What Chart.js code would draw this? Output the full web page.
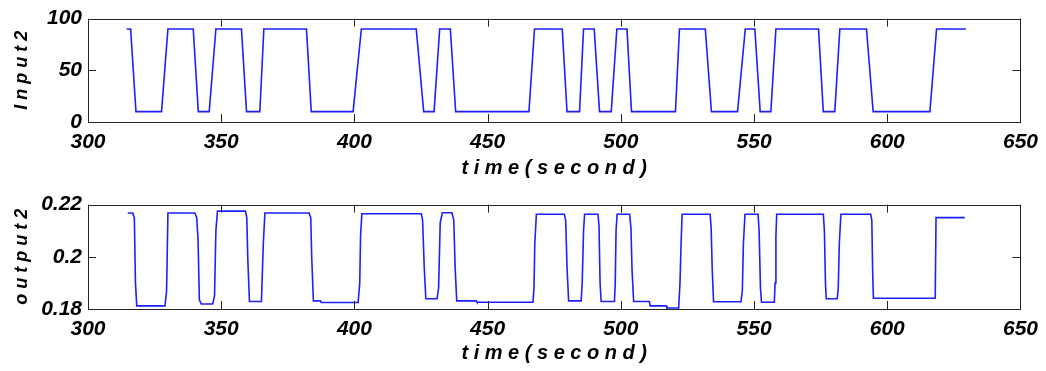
<!DOCTYPE html>
<html>
<head>
<meta charset="utf-8">
<script src="https://cdn.jsdelivr.net/npm/chart.js@4/dist/chart.umd.min.js"></script>
<style>
    html, body { margin: 0; padding: 0; background: #fff; }
    body { width: 1046px; height: 371px; position: relative; overflow: hidden; }
    canvas { position: absolute; left: 0; }
    #inputChart { top: 0; }
    #outputChart { top: 186px; }
</style>
</head>
<body>
<canvas id="inputChart" width="1046" height="186"></canvas>
<canvas id="outputChart" width="1046" height="185"></canvas>
<script>
// x axis ticks (seconds)
const timeTicks = [300, 350, 400, 450, 500, 550, 600, 650];
const inputTicks = [0, 50, 100];
const outputTicks = [0.18, 0.2, 0.22];

// input2
const inputTime = [
    314.5, 316, 318, 327.6, 330, 339.5, 341.4, 345.5, 348, 357.6,
    359.5, 364.5, 366, 382, 383.8, 399.5, 402.6, 423.2, 426, 429.9,
    432, 436, 438, 465.5, 467.6, 478, 479.8, 484.5, 486, 490,
    492, 496.4, 498.5, 502.3, 504, 520.5, 522, 531.7, 534, 543.8,
    546.7, 550.3, 552.3, 556.3, 558.2, 574.2, 576, 580.3, 582.2, 592.2,
    594.7, 616, 618.5, 629.5
];
const inputValue = [
    90, 90, 10, 10, 90, 90, 10, 10, 90, 90,
    10, 10, 90, 90, 10, 10, 90, 90, 10, 10,
    90, 90, 10, 10, 90, 90, 10, 10, 90, 90,
    10, 10, 90, 90, 10, 10, 90, 90, 10, 10,
    90, 90, 10, 10, 90, 90, 10, 10, 90, 90,
    10, 10, 90, 90
];

// output2
const outputTime = [
    314.9, 316.8, 317.4, 317.8, 318.3, 328.9, 329.5, 330.0,
    340.1, 340.8, 341.3, 341.8, 342.5, 346.8, 347.5, 348.0, 348.6,
    359.1, 359.6, 360.0, 360.6, 365.1, 365.8, 366.4,
    383.0, 383.6, 384.0, 384.6, 387.3, 387.5, 401.4, 402.0, 402.3, 402.8,
    425.1, 425.6, 426.2, 426.8, 431.0, 431.6, 432.2, 433.0,
    436.6, 437.3, 437.8, 438.4, 445.7, 446.0, 467.0, 467.4, 467.7, 468.3,
    478.8, 479.3, 479.8, 480.4, 485.1, 485.5, 486.0, 486.4,
    491.4, 491.8, 492.2, 492.6, 497.6, 497.9, 498.2, 498.6,
    503.3, 503.8, 504.2, 504.8, 510.7, 511.0, 517.0, 517.3, 521.7, 522.2, 522.6, 523.0,
    533.5, 533.9, 534.3, 534.8, 545.1, 545.6, 546.0, 546.6,
    551.5, 551.9, 552.4, 552.8, 557.6, 557.9, 558.2, 558.5,
    576.0, 576.4, 576.8, 577.1, 581.2, 581.6, 582.0, 582.6,
    593.8, 594.2, 594.5, 594.8, 618.0, 618.3, 629.1
];
const outputValue = [
    0.2168, 0.2168, 0.2150, 0.1903, 0.1812, 0.1812, 0.1870, 0.2168,
    0.2168, 0.2150, 0.2067, 0.1835, 0.1819, 0.1819, 0.1850, 0.2100, 0.2175,
    0.2175, 0.2150, 0.1985, 0.1829, 0.1829, 0.2050, 0.2168,
    0.2168, 0.2150, 0.1990, 0.1831, 0.1831, 0.1825, 0.1825, 0.1900, 0.2080, 0.2165,
    0.2165, 0.2140, 0.1960, 0.1839, 0.1839, 0.1880, 0.2130, 0.2169,
    0.2169, 0.2140, 0.1960, 0.1831, 0.1831, 0.1826, 0.1826, 0.1880, 0.2050, 0.2163,
    0.2163, 0.2140, 0.1960, 0.1831, 0.1831, 0.1900, 0.2100, 0.2163,
    0.2163, 0.2120, 0.1900, 0.1829, 0.1829, 0.1900, 0.2100, 0.2163,
    0.2163, 0.2110, 0.1950, 0.1829, 0.1829, 0.1812, 0.1812, 0.1804, 0.1804, 0.1900, 0.2050, 0.2163,
    0.2163, 0.2110, 0.1950, 0.1828, 0.1828, 0.1870, 0.2050, 0.2163,
    0.2163, 0.2100, 0.1880, 0.1826, 0.1826, 0.1900, 0.2080, 0.2163,
    0.2163, 0.2100, 0.1900, 0.1839, 0.1839, 0.1880, 0.2050, 0.2163,
    0.2163, 0.2140, 0.1950, 0.1841, 0.1841, 0.2150, 0.2150
];

const tickFont = { family: "'Liberation Sans', 'DejaVu Sans', sans-serif", size: 21, weight: 'bold', style: 'italic' };
const titleFont = { family: "'Liberation Sans', 'DejaVu Sans', sans-serif", size: 20, weight: 'bold', style: 'italic' };

// MATLAB style box with inward ticks
const boxPlugin = {
    id: 'box',
    afterDraw(chart) {
        const { ctx, chartArea: a, scales } = chart;
        const len = 8;
        ctx.save();
        ctx.strokeStyle = '#222';
        ctx.lineWidth = 1;
        ctx.strokeRect(Math.round(a.left) + 0.5, Math.round(a.top) + 0.5,
            Math.round(a.right - a.left), Math.round(a.bottom - a.top));
        ctx.beginPath();
        scales.x.ticks.forEach(t => {
            const px = Math.round(scales.x.getPixelForValue(t.value)) + 0.5;
            ctx.moveTo(px, a.bottom); ctx.lineTo(px, a.bottom - len);
            ctx.moveTo(px, a.top); ctx.lineTo(px, a.top + len);
        });
        scales.y.ticks.forEach(t => {
            const py = Math.round(scales.y.getPixelForValue(t.value)) + 0.5;
            ctx.moveTo(a.left, py); ctx.lineTo(a.left + len, py);
            ctx.moveTo(a.right, py); ctx.lineTo(a.right - len, py);
        });
        ctx.stroke();
        ctx.restore();
    }
};

function makeChart(id, times, values, yMin, yMax, yTicks, yTitle, top, xHeight) {
    return new Chart(document.getElementById(id), {
        type: 'line',
        data: {
            datasets: [{
                data: times.map((t, i) => ({ x: t, y: values[i] })),
                borderColor: '#1f1fff',
                borderWidth: 1.6,
                pointRadius: 0,
                tension: 0
            }]
        },
        options: {
            responsive: false,
            animation: false,
            layout: { padding: { top: top, right: 23, left: 0, bottom: 0 } },
            plugins: { legend: { display: false }, tooltip: { enabled: false } },
            scales: {
                x: {
                    type: 'linear', min: 300, max: 650,
                    afterBuildTicks: s => { s.ticks = timeTicks.map(v => ({ value: v })); },
                    afterFit: s => { s.height = xHeight; },
                    grid: { display: false, drawTicks: false },
                    border: { display: false },
                    ticks: { color: '#000', font: tickFont, padding: 8, maxRotation: 0 },
                    title: { display: true, text: 't i m e ( s e c o n d )', color: '#000', font: titleFont, padding: { top: 0, bottom: 6 } }
                },
                y: {
                    type: 'linear', min: yMin, max: yMax,
                    afterBuildTicks: s => { s.ticks = yTicks.map(v => ({ value: v })); },
                    afterFit: s => { s.width = 88; },
                    grid: { display: false, drawTicks: false },
                    border: { display: false },
                    ticks: { color: '#000', font: tickFont, padding: 6, callback: v => String(Number(v.toFixed(2))) },
                    title: { display: true, text: yTitle, color: '#000', font: { ...titleFont, size: 18 }, padding: { top: 11, bottom: 0 } }
                }
            }
        },
        plugins: [boxPlugin]
    });
}

makeChart('inputChart', inputTime, inputValue, 0, 100, inputTicks, 'I n p u t 2', 15, 64);
makeChart('outputChart', outputTime, outputValue, 0.18, 0.22, outputTicks, 'o u t p u t 2', 17, 62);
</script>
</body>
</html>
